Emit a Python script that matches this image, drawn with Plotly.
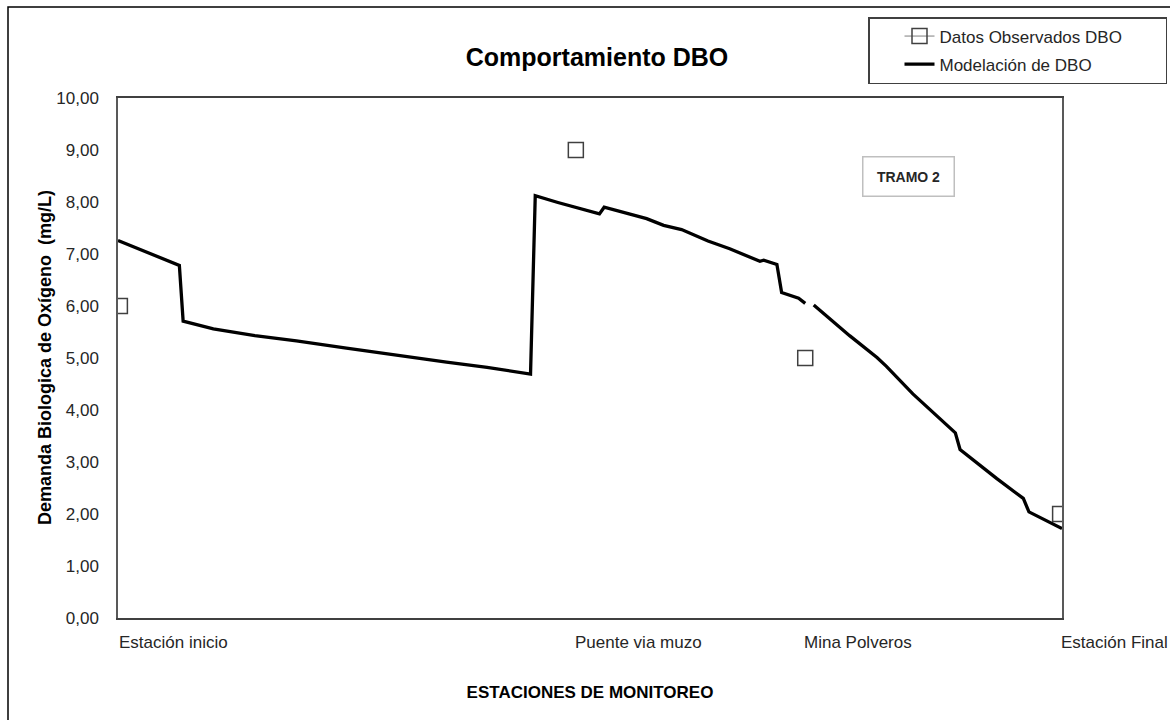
import plotly.graph_objects as go

# ---------------- data ----------------
# Modelled DBO along the reach (abstract distance 0-100 between stations); None = gap in the line
model_x = [0, 6.5, 6.9, 10.1, 14.5, 18.9, 24.2, 29.9, 34.8, 39.1, 43.7,
           44.2, 46.6, 51.0, 51.5, 56.0, 57.8, 59.7, 62.5, 64.8, 68.0, 68.4,
           69.8, 70.3, 72.1, 72.8, None, 73.7, 77.5, 80.4, 81.4, 84.2, 88.7,
           89.2, 93.1, 95.9, 96.5, 100.0]
model_y = [7.26, 6.78, 5.71, 5.56, 5.43, 5.33, 5.19, 5.04, 4.92, 4.82, 4.69,
           8.12, 7.99, 7.77, 7.90, 7.68, 7.55, 7.47, 7.25, 7.10, 6.86, 6.88,
           6.80, 6.26, 6.15, 6.05, None, 6.02, 5.43, 5.01, 4.84, 4.31, 3.56,
           3.24, 2.68, 2.30, 2.04, 1.72]

# Observed DBO at the monitoring stations
obs_x = [0.2, 48.5, 72.8, 99.8]
obs_y = [6.0, 9.0, 5.0, 2.0]

# Station labels (x-axis categories)
station_names = ["Estación inicio", "Puente via muzo", "Mina Polveros", "Estación Final"]
station_x = [0.2, 48.5, 72.8, 100.0]

# y tick values / labels
y_ticks = [0, 1, 2, 3, 4, 5, 6, 7, 8, 9, 10]
y_ticktext = ["0,00", "1,00", "2,00", "3,00", "4,00", "5,00", "6,00",
              "7,00", "8,00", "9,00", "10,00"]

# ---------------- figure ----------------
FONT = "Liberation Sans, Arial, sans-serif"
PL, PT, PW, PH = 118, 98, 944, 520   # plot area in pixels

ox, oy = [], []
for xv, yv in zip(obs_x, obs_y):
    ox += [xv, None]
    oy += [yv, None]

fig = go.Figure()
fig.add_trace(go.Scatter(
    x=ox, y=oy, mode="lines+markers",
    name="Datos Observados DBO" + "\u00a0" * 8,
    line=dict(color="#7f7f7f", width=1),
    marker=dict(symbol="square-open", size=15, color="#404040",
                line=dict(color="#404040", width=1.5)),
    connectgaps=False, legendgroup="a",
))
fig.add_trace(go.Scatter(
    x=model_x, y=model_y, mode="lines", name="Modelación de DBO",
    line=dict(color="#000000", width=3.3),
    connectgaps=False, legendgroup="b",
))

annotations = []
for name, xv in zip(station_names, station_x):
    annotations.append(dict(
        x=xv, y=0, xref="x", yref="paper", text=name, showarrow=False,
        xanchor="left", yanchor="top", yshift=-13, xshift=-3,
        font=dict(family=FONT, size=17, color="#262626"),
    ))

# y-axis title
annotations.append(dict(
    x=(45 - PL) / PW, y=0.5, xref="paper", yref="paper",
    text="<b>Demanda Biologica de Oxígeno  (mg/L)</b>", textangle=-90,
    showarrow=False, xanchor="center", yanchor="middle",
    font=dict(family=FONT, size=18, color="#000000"),
))

# TRAMO 2 label box
annotations.append(dict(
    x=(908 - PL) / PW, y=(PT + PH - 176) / PH, xref="paper", yref="paper",
    text="<b>TRAMO 2</b>", showarrow=False, xanchor="center", yanchor="middle",
    width=82, height=30, borderpad=4,
    font=dict(family=FONT, size=14, color="#262626"),
    bordercolor="#bfbfbf", borderwidth=1.5, bgcolor="white",
))

shapes = [dict(
    type="rect", xref="paper", yref="paper",
    x0=(8 - PL) / PW, x1=(1185 - PL) / PW,
    y0=(PT + PH - 740) / PH, y1=(PT + PH - 7) / PH,
    line=dict(color="#000000", width=1.5), layer="below",
)]

fig.update_layout(
    width=1170, height=720,
    margin=dict(l=PL, r=1170 - PL - PW, t=PT, b=720 - PT - PH, autoexpand=False),
    paper_bgcolor="white", plot_bgcolor="white",
    font=dict(family=FONT, size=17, color="#262626"),
    title=dict(text="<b>Comportamiento DBO</b>", xref="container", x=597 / 1170,
               xanchor="center", y=1 - 57 / 720, yanchor="middle",
               font=dict(family=FONT, size=25, color="#000000")),
    xaxis=dict(range=[0, 100], showticklabels=False, ticks="", showgrid=False,
               zeroline=False, showline=True, linecolor="#404040", linewidth=2,
               mirror=True,
               title=dict(text="<b>ESTACIONES DE MONITOREO</b>", standoff=67,
                          font=dict(family=FONT, size=17, color="#000000"))),
    yaxis=dict(range=[0, 10], tickvals=y_ticks, ticktext=y_ticktext, ticks="",
               ticklabelstandoff=14, showgrid=False, zeroline=False,
               showline=True, linecolor="#595959", linewidth=1.5, mirror=True,
               tickfont=dict(family=FONT, size=17, color="#262626")),
    legend=dict(x=(868 - PL) / PW, y=(PT + PH - 17) / PH, xanchor="left",
                yanchor="top", bgcolor="white", bordercolor="#404040",
                borderwidth=1.5, font=dict(family=FONT, size=17, color="#262626"),
                tracegroupgap=3, indentation=30),
    showlegend=True,
    annotations=annotations,
    shapes=shapes,
)

fig.write_html("out.html",
               config={"displayModeBar": False},
               post_script="document.body.style.margin='0px';document.body.style.overflow='hidden';")
